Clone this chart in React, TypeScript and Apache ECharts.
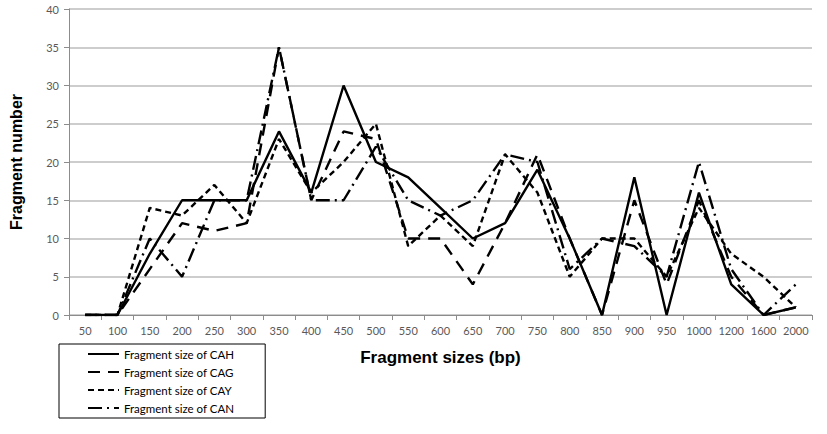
import React, { useEffect, useRef } from "react";
import * as echarts from "echarts";

const categories = ["50", "100", "150", "200", "250", "300", "350", "400", "450", "500", "550", "600", "650", "700", "750", "800", "850", "900", "950", "1000", "1200", "1600", "2000"];
const cah = [0, 0, 8, 15, 15, 15, 24, 16, 30, 20, 18, 14, 10, 12, 19, 10, 0, 18, 0, 16, 4, 0, 1];
const cag = [0, 0, 6, 12, 11, 12, 35, 15, 24, 23, 10, 10, 4, 12, 21, 10, 0, 15, 4, 15, 5, 0, 1];
const cay = [0, 0, 14, 13, 17, 12, 23, 16, 20, 25, 9, 13, 9, 21, 16, 5, 10, 10, 5, 14, 8, 5, 1];
const can = [0, 0, 10, 5, 15, 15, 35, 15, 15, 22, 15, 13, 15, 21, 20, 6, 10, 9, 5, 20, 6, 0, 4];
const seriesNames = ["Fragment size of CAH", "Fragment size of CAG", "Fragment size of CAY", "Fragment size of CAN"];

export default function App() {
  const ref = useRef<HTMLDivElement>(null);
  useEffect(() => {
    if (!ref.current) return;
    const chart = echarts.init(ref.current, null, { renderer: "svg" });
    const labelFont = "Lato, 'Open Sans', sans-serif";
    const mk = (name: string, data: number[], type: any) => ({
      name,
      type: "line",
      data,
      symbol: "none",
      lineStyle: { color: "#000", width: 2.4, type, cap: "butt" },
      itemStyle: { color: "#000" },
    });
    chart.setOption({
      animation: false,
      backgroundColor: "#fff",
      grid: { left: 63, top: 9, width: 749, height: 306, containLabel: false },
      legend: {
        orient: "vertical",
        left: 59,
        top: 344,
        borderColor: "#000",
        borderWidth: 1,
        padding: [4, 31, 4, 28],
        itemWidth: 31,
        itemHeight: 12,
        itemGap: 6,
        itemStyle: { color: "rgba(0,0,0,0)", borderColor: "rgba(0,0,0,0)", borderWidth: 0 },
        textStyle: { fontFamily: labelFont, fontSize: 11.5, color: "#000", lineHeight: 12 },
        data: seriesNames,
      },
      xAxis: {
        type: "category",
        data: categories,
        boundaryGap: true,
        name: "Fragment sizes (bp)",
        nameLocation: "middle",
        nameGap: 34,
        nameTextStyle: { fontFamily: "'Liberation Sans', Arial, sans-serif", fontWeight: "bold", fontSize: 17, color: "#000" },
        axisLine: { lineStyle: { color: "#8c8c8c", width: 1 } },
        axisTick: { show: true, length: 5, alignWithLabel: false, lineStyle: { color: "#8c8c8c" } },
        axisLabel: { fontFamily: labelFont, fontSize: 11, color: "#595959", margin: 10, interval: 0 },
        splitLine: { show: false },
      },
      yAxis: {
        type: "value",
        min: 0,
        max: 40,
        interval: 5,
        name: "Fragment number",
        nameLocation: "middle",
        nameGap: 45,
        nameTextStyle: { fontFamily: "'Liberation Sans', Arial, sans-serif", fontWeight: "bold", fontSize: 16, color: "#000" },
        axisLine: { show: true, lineStyle: { color: "#8c8c8c", width: 1 } },
        axisTick: { show: true, length: 5, lineStyle: { color: "#8c8c8c" } },
        axisLabel: { fontFamily: labelFont, fontSize: 11, color: "#595959", margin: 10 },
        splitLine: { show: true, lineStyle: { color: "#bdbdbd", width: 1.5 } },
      },
      series: [
        mk(seriesNames[0], cah, "solid"),
        mk(seriesNames[1], cag, [12, 8]),
        mk(seriesNames[2], cay, [6, 4]),
        mk(seriesNames[3], can, [14, 5, 2, 5]),
      ],
    });
    return () => chart.dispose();
  }, []);
  return <div ref={ref} style={{ width: 827, height: 434, position: "absolute", left: 0, top: 0 }} />;
}
